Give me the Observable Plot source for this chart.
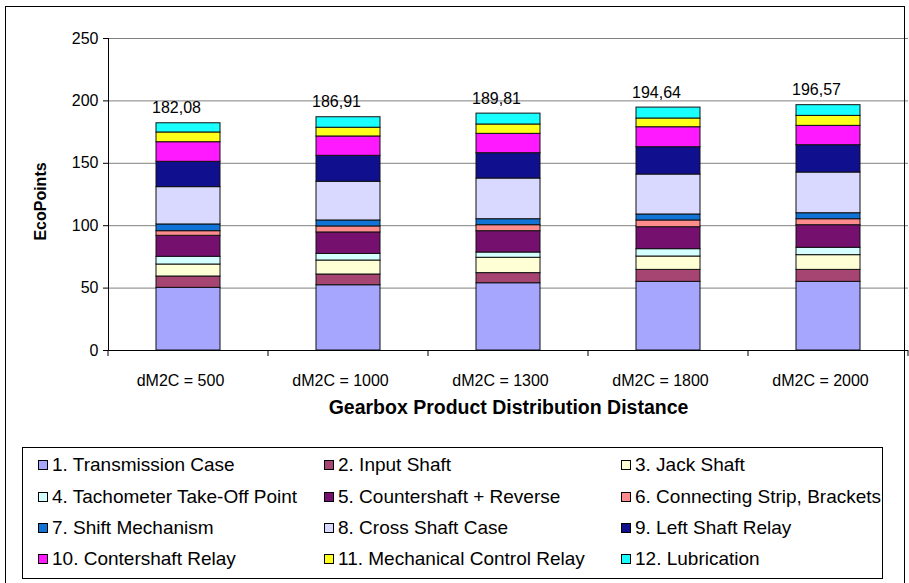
<!DOCTYPE html>
<html>
<head>
<meta charset="utf-8">
<script src="https://cdn.jsdelivr.net/npm/d3@7"></script>
<script src="https://cdn.jsdelivr.net/npm/@observablehq/plot@0.6"></script>
<style>
  html, body { margin: 0; padding: 0; background: #fff; }
  body { font-family: "Liberation Sans", Arial, sans-serif; }
  #wrap { position: relative; width: 909px; height: 583px; overflow: hidden; }
  #chart { position: absolute; left: 0; top: 0; }
  #outer { position: absolute; left: 5px; top: 6px; width: 900px; height: 600px; border: 1px solid #000; box-sizing: border-box; pointer-events: none; }
  #legend { position: absolute; left: 22px; top: 447px; width: 861px; height: 132px; border: 1px solid #000; box-sizing: border-box; background: #fff; }
  .item { position: absolute; display: flex; align-items: center; font-size: 19px; color: #000; white-space: nowrap; height: 22px; }
  .sw { width: 8px; height: 8px; border: 1px solid #000; margin-right: 4px; flex: none; }
</style>
</head>
<body>
<div id="wrap">
  <div id="chart"></div>
  <div id="legend"></div>
  <div id="outer"></div>
</div>
<script>
const categories = ["dM2C = 500", "dM2C = 1000", "dM2C = 1300", "dM2C = 1800", "dM2C = 2000"];
const components = [
  "1. Transmission Case", "2. Input Shaft", "3. Jack Shaft",
  "4. Tachometer Take-Off Point", "5. Countershaft + Reverse", "6. Connecting Strip, Brackets",
  "7. Shift Mechanism", "8. Cross Shaft Case", "9. Left Shaft Relay",
  "10. Contershaft Relay", "11. Mechanical Control Relay", "12. Lubrication"
];
const colors = ["#a6a6ff", "#a64472", "#ffffd5", "#d5ffff", "#76106f", "#ff8c8c",
                "#1173d6", "#d9d9ff", "#10108f", "#ff19ff", "#ffff1a", "#19ffff"];
// values per component, one per category
const ecoPoints = [
  [50.2, 52.3, 53.9, 55.0, 55.0],
  [9.1, 8.6, 8.1, 9.6, 9.6],
  [9.6, 11.2, 12.3, 10.7, 11.8],
  [6.2, 5.3, 4.2, 5.9, 5.9],
  [16.8, 17.2, 17.1, 17.6, 18.1],
  [3.7, 4.8, 4.8, 5.4, 4.8],
  [5.4, 4.8, 4.8, 4.8, 4.8],
  [29.9, 31.0, 32.6, 32.0, 32.6],
  [20.3, 20.8, 20.3, 21.9, 21.9],
  [15.7, 15.5, 15.5, 16.0, 15.5],
  [7.8, 7.0, 7.5, 7.0, 8.0],
  [7.38, 8.41, 8.71, 8.74, 8.57]
];
const totals = [182.08, 186.91, 189.81, 194.64, 196.57];
const yTicks = [0, 50, 100, 150, 200, 250];

const rows = [];
components.forEach((c, i) => categories.forEach((cat, j) => rows.push({component: c, category: cat, value: ecoPoints[i][j]})));
const totalRows = categories.map((cat, j) => ({category: cat, total: totals[j], label: totals[j].toFixed(2).replace(".", ",")}));

const chart = Plot.plot({
  width: 909,
  height: 440,
  marginLeft: 108,
  marginRight: 1,
  marginTop: 38,
  marginBottom: 90,
  style: {fontFamily: "'Liberation Sans', Arial, sans-serif", fontSize: "16px", color: "#000", background: "transparent"},
  x: {domain: categories, paddingInner: 0.6, paddingOuter: 0.3, round: false},
  y: {domain: [0, 250], ticks: yTicks},
  color: {domain: components, range: colors},
  marks: [
    Plot.gridY(yTicks.slice(1), {stroke: "#808080", strokeOpacity: 1}),
    Plot.barY(rows, {x: "category", y: "value", fill: "component", stroke: "#111", strokeWidth: 1, order: null}),
    Plot.text(totalRows, {x: "category", y: "total", text: "label", dy: -15, dx: -12, fontSize: 16, fill: "#000"}),
    Plot.ruleY([0], {stroke: "#000"}),
    Plot.frame({anchor: "left", stroke: "#000"}),
    Plot.axisY({ticks: yTicks, tickSize: 5, tickPadding: 5, label: null, fontSize: 16}),
    Plot.axisX({tickSize: 0, tickPadding: 24, dx: -8, label: null, fontSize: 16}),
    Plot.text(["Gearbox Product Distribution Distance"], {frameAnchor: "bottom", dy: 63, fontWeight: "bold", fontSize: 19.5, fill: "#000"}),
    Plot.text(["EcoPoints"], {frameAnchor: "left", textAnchor: "middle", dx: -68, dy: 7, rotate: -90, fontWeight: "bold", fontSize: 16, fill: "#000"})
  ]
});
document.getElementById("chart").appendChild(chart);

// category boundary tick marks below the x axis
const xs = chart.scale("x");
const ys = chart.scale("y");
const gap = (xs.step - xs.bandwidth) / 2;
const bounds = categories.map(c => xs.apply(c) - gap);
bounds.push(xs.apply(categories[categories.length - 1]) + xs.bandwidth + gap);
const y0 = ys.apply(0);
d3.select(chart).append("g").selectAll("line").data(bounds).join("line")
  .attr("x1", d => d).attr("x2", d => d).attr("y1", y0).attr("y2", y0 + 6)
  .attr("stroke", "#000");

// legend
const legend = d3.select("#legend");
const colX = [15, 301, 598];
const rowY = [6, 38, 69, 100];
components.forEach((c, i) => {
  const it = legend.append("div").attr("class", "item")
    .style("left", colX[i % 3] + "px").style("top", rowY[Math.floor(i / 3)] + "px");
  it.append("div").attr("class", "sw").style("background", colors[i]);
  it.append("span").text(c);
});
</script>
</body>
</html>
